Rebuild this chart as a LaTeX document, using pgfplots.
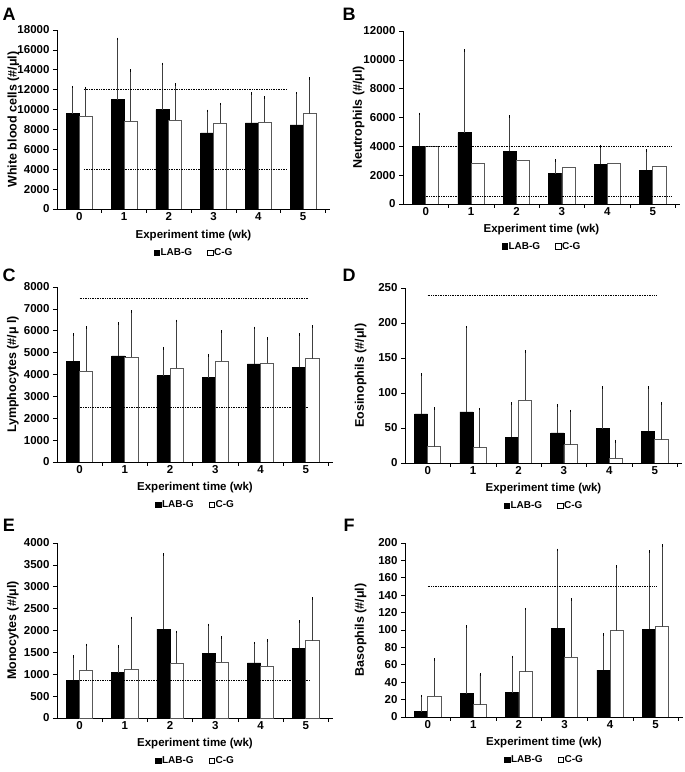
\documentclass[border=0pt]{standalone}
\usepackage{pgfplots}
\pgfplotsset{compat=1.18}
\usepackage{pgfplotstable}
\usepackage{fontspec}
\setmainfont{Liberation Sans}

\pgfplotstableread{
x lab labe cg cge
0 9600 2650 9350 2800
1 11000 6100 8800 5100
2 10000 4600 8900 3600
3 7650 2200 8600 1950
4 8650 2950 8700 2500
5 8450 3200 9600 3500
}\tA
\pgfplotstableread{
x lab labe cg cge
0 4000 2250 4000 0
1 4950 5700 2800 0
2 3650 2400 3000 0
3 2100 900 2550 0
4 2750 1250 2850 0
5 2350 1350 2600 0
}\tB
\pgfplotstableread{
x lab labe cg cge
0 4600 1220 4150 2000
1 4850 1480 4780 2090
2 3950 1250 4300 2150
3 3850 1030 4620 1340
4 4480 1650 4520 1120
5 4320 1500 4730 1470
}\tC
\pgfplotstableread{
x lab labe cg cge
0 70 56 23 55
1 73 121 22 55
2 37 48 90 69
3 43 39 26 48
4 49 59 7 24
5 45 63 33 52
}\tD
\pgfplotstableread{
x lab labe cg cge
0 860 540 1090 580
1 1040 600 1110 1180
2 2030 1710 1250 720
3 1480 650 1270 570
4 1260 450 1190 580
5 1600 600 1770 960
}\tE
\pgfplotstableread{
x lab labe cg cge
0 6 18 24 42
1 27 77 14 35
2 28 41 52 72
3 102 90 69 66
4 54 41 99 74
5 101 89 104 93
}\tF

\newcommand{\LL}{\legend{LAB-G, C-G}}

\pgfplotsset{
 panel/.style={
  scale only axis, anchor=south west,
  xmin=-0.5, xmax=5.6, ymin=0,
  axis x line*=bottom, axis y line*=left,
  axis line style={-, line width=0.6pt},
  xtick={0.5,1.5,2.5,3.5,4.5,5.5}, xticklabels={},
  extra x ticks={0,1,2,3,4,5}, extra x tick labels={0,1,2,3,4,5},
  extra x tick style={major tick length=0pt},
  tick align=outside, major tick length=4pt,
  tick style={black, line width=0.6pt},
  tick label style={font=\bfseries\fontsize{11.5}{13}\selectfont},
  /pgf/number format/assume math mode=true,
  /pgf/number format/1000 sep={},
  scaled y ticks=false,
  xlabel={Experiment time (wk)},
  xlabel style={at={(axis description cs:0.5,-0.148)}, anchor=center, font=\bfseries\fontsize{11.5}{13}\selectfont},
  ylabel style={at={(axis description cs:-0.16,0.5)}, anchor=center, font=\bfseries\fontsize{12.5}{14}\selectfont},
  ybar, bar width=0.29,
  legend columns=2,
  legend style={at={(axis description cs:0.5,-0.245)}, anchor=center, draw=none, fill=none,
    font=\bfseries\fontsize{10}{12}\selectfont,
    nodes={inner xsep=1pt, inner ysep=0pt}, inner sep=0pt,
    /tikz/column 2/.style={column sep=14pt}},
  legend image code/.code={\draw[#1, draw=black, line width=0.5pt] (1pt,-2.8pt) rectangle (6.5pt,2.7pt);},
 },
 labbar/.style={fill=black, draw=black, line width=0.6pt, bar shift=-0.145,
   error bars/.cd, y dir=plus, y explicit, error bar style={black!75, line width=0.9pt}, error mark options={black, mark size=1.3pt, line width=0.9pt}},
 cgbar/.style={fill=white, draw=black!65, line width=0.8pt, bar shift=0.145,
   error bars/.cd, y dir=plus, y explicit, error bar style={black!75, line width=0.9pt}, error mark options={black, mark size=1.3pt, line width=0.9pt}},
 cgbarnoerr/.style={fill=white, draw=black!65, line width=0.8pt, bar shift=0.145},
 refline/.style={sharp plot, black, densely dotted, line width=0.7pt, forget plot},
}

\begin{document}
\begin{tikzpicture}
\useasboundingbox (0,0) rectangle (685pt,772pt);
\node[font=\bfseries\fontsize{18}{20}\selectfont] at (9pt,758pt) {A};
\node[font=\bfseries\fontsize{18}{20}\selectfont] at (349pt,758pt) {B};
\node[font=\bfseries\fontsize{18}{20}\selectfont] at (9pt,497pt) {C};
\node[font=\bfseries\fontsize{18}{20}\selectfont] at (349pt,497pt) {D};
\node[font=\bfseries\fontsize{18}{20}\selectfont] at (9pt,247pt) {E};
\node[font=\bfseries\fontsize{18}{20}\selectfont] at (349pt,247pt) {F};

% A
\begin{axis}[panel, at={(57pt,563pt)}, width=273pt, height=179pt,
  ymax=18000, ytick={0,2000,...,18000}, ylabel={White blood cells (\#/μl)}]
\addplot[labbar] table[x=x,y=lab,y error plus=labe] {\tA};
\addplot[cgbar] table[x=x,y=cg,y error plus=cge] {\tA};
\addplot[refline] coordinates {(0.1,12000) (4.65,12000)};
\addplot[refline] coordinates {(0.1,4000) (4.65,4000)};
\LL
\end{axis}

% B
\begin{axis}[panel, at={(403pt,568pt)}, width=277pt, height=173pt,
  ymax=12000, ytick={0,2000,...,12000}, ylabel={Neutrophils (\#/μl)}]
\addplot[labbar] table[x=x,y=lab,y error plus=labe] {\tB};
\addplot[cgbarnoerr] table[x=x,y=cg] {\tB};
\addplot[refline] coordinates {(0,4000) (5.4,4000)};
\addplot[refline] coordinates {(0,500) (5.4,500)};
\LL
\end{axis}

% C
\begin{axis}[panel, at={(57pt,310pt)}, width=276pt, height=175pt,
  ymax=8000, ytick={0,1000,...,8000}, ylabel={Lymphocytes (\#/μ l)}]
\addplot[labbar] table[x=x,y=lab,y error plus=labe] {\tC};
\addplot[cgbar] table[x=x,y=cg,y error plus=cge] {\tC};
\addplot[refline] coordinates {(0,7500) (5.07,7500)};
\addplot[refline] coordinates {(0,2500) (5.07,2500)};
\LL
\end{axis}

% D
\begin{axis}[panel, at={(405pt,309pt)}, width=277pt, height=175pt,
  ymax=250, ytick={0,50,...,250}, ylabel={Eosinophils (\#/μl)}]
\addplot[labbar] table[x=x,y=lab,y error plus=labe] {\tD};
\addplot[cgbar] table[x=x,y=cg,y error plus=cge] {\tD};
\addplot[refline] coordinates {(0,240) (5.02,240)};
\LL
\end{axis}

% E
\begin{axis}[panel, at={(57pt,54pt)}, width=276pt, height=175pt,
  ymax=4000, ytick={0,500,...,4000}, ylabel={Monocytes (\#/μl)}]
\addplot[labbar] table[x=x,y=lab,y error plus=labe] {\tE};
\addplot[cgbar] table[x=x,y=cg,y error plus=cge] {\tE};
\addplot[refline] coordinates {(0,850) (5.1,850)};
\LL
\end{axis}

% F
\begin{axis}[panel, at={(405pt,55pt)}, width=278pt, height=174pt,
  ymax=200, ytick={0,20,...,200}, ylabel={Basophils (\#/μl)}]
\addplot[labbar] table[x=x,y=lab,y error plus=labe] {\tF};
\addplot[cgbar] table[x=x,y=cg,y error plus=cge] {\tF};
\addplot[refline] coordinates {(0,150) (5.02,150)};
\LL
\end{axis}
\end{tikzpicture}
\end{document}
